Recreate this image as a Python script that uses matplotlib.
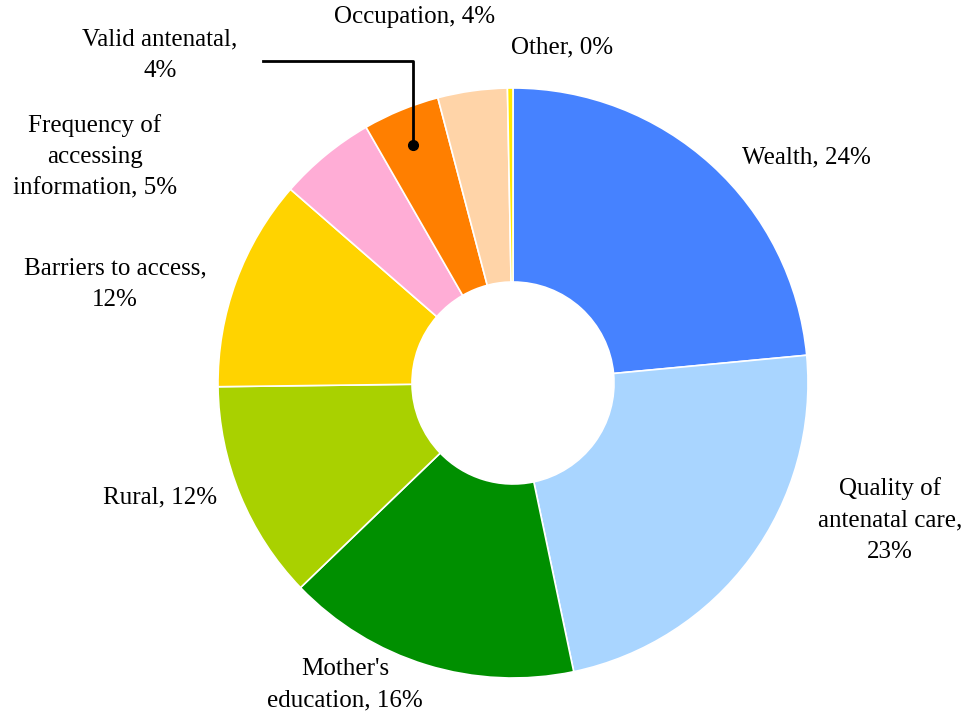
import matplotlib
matplotlib.use("Agg")
import matplotlib.pyplot as plt

categories = ["Wealth", "Quality of antenatal care", "Mother's education", "Rural",
              "Barriers to access", "Frequency of accessing information",
              "Valid antenatal", "Occupation", "Other"]
values = [23.5, 23.2, 16.1, 12.0, 11.6, 5.3, 4.2, 3.8, 0.3]
label_texts = ["Wealth, 24%", "Quality of\nantenatal care,\n23%", "Mother's\neducation, 16%",
               "Rural, 12%", "Barriers to access,\n12%", "Frequency of\naccessing\ninformation, 5%",
               "Valid antenatal,\n4%", "Occupation, 4%", "Other, 0%"]
colors = ["#4682FF", "#A9D5FF", "#008F00", "#A9D100", "#FFD300", "#FFADD6",
          "#FF7F00", "#FFD4A8", "#FFE800"]

W, H = 973, 715
CX, CY, R = 513, 383, 295

fig = plt.figure(figsize=(W / 100, H / 100), dpi=100)
ax = fig.add_axes([0, 0, 1, 1])
ax.axis("off")

ax.pie(values, colors=colors, startangle=90, counterclock=False, radius=1.0,
       wedgeprops=dict(width=1 - 101 / R, edgecolor="white", linewidth=1.2))
ax.set_aspect("auto")
ax.set_xlim(-CX / R, (W - CX) / R)
ax.set_ylim(-(H - CY) / R, CY / R)

# label positions in pixel coords (layout)
label_px = [(806, 157), (890, 520), (345, 685), (160, 497), (115, 284),
            (95, 157), (160, 55), (415, 17), (562, 47)]

def to_data(px, py):
    return (px - CX) / R, (CY - py) / R

for txt, (px, py) in zip(label_texts, label_px):
    x, y = to_data(px, py)
    ax.text(x, y, txt, ha="center", va="center", fontsize=18,
            family="Liberation Serif", linespacing=1.55, color="black")

# leader line for Valid antenatal
p0 = to_data(263, 61)
p1 = to_data(413, 61)
p2 = to_data(413, 145)
ax.plot([p0[0], p1[0], p2[0]], [p0[1], p1[1], p2[1]], color="black", lw=2)
ax.plot([p2[0]], [p2[1]], "o", color="black", ms=7)

fig.savefig("out.png", dpi=100)
